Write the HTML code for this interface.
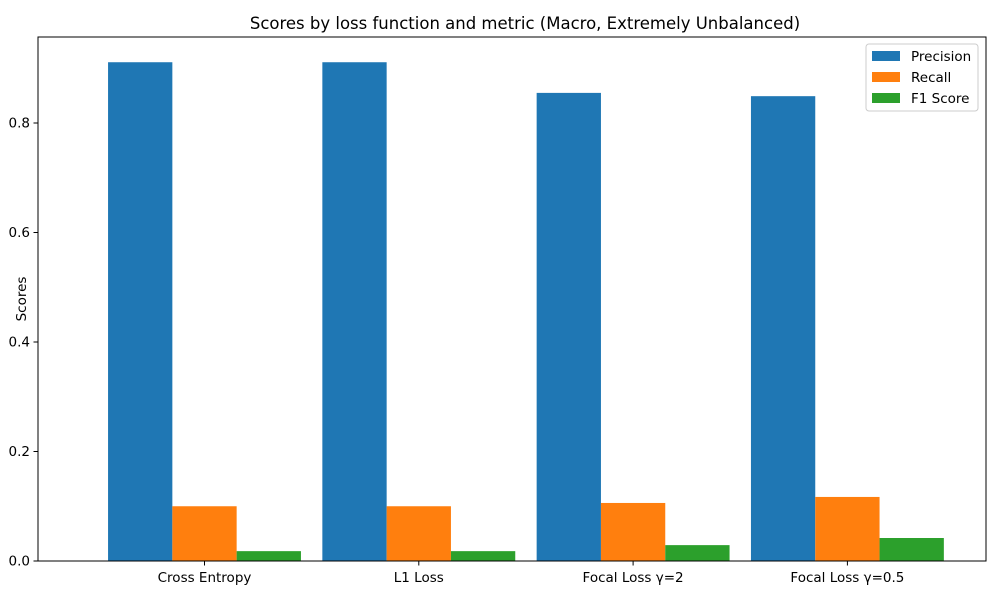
<!DOCTYPE html>
<html><head><meta charset="utf-8"><style>
body{margin:0;background:#fff;font-family:"DejaVu Sans","Liberation Sans",sans-serif;}
svg text{font-family:"DejaVu Sans","Liberation Sans",sans-serif;}
</style></head><body>
<svg id="chart" width="1000" height="600" xmlns="http://www.w3.org/2000/svg">
<text x="525" y="29" text-anchor="middle" font-size="16.5">Scores by loss function and metric (Macro, Extremely Unbalanced)</text>
<text transform="translate(26,299) rotate(-90)" text-anchor="middle" font-size="13.5">Scores</text>
<g id="bars"></g><g id="ticks"></g>
<rect x="38" y="37" width="948" height="524" fill="none" stroke="#000" stroke-width="1"/>
<g>
<rect x="866" y="44" width="112" height="67" fill="#fff" stroke="#ccc" rx="3"/>
<rect x="872" y="51" width="28" height="10" fill="#1f77b4"/><text x="911" y="61" font-size="13.5">Precision</text>
<rect x="872" y="72" width="28" height="10" fill="#ff7f0e"/><text x="911" y="82" font-size="13.5">Recall</text>
<rect x="872" y="93" width="28" height="10" fill="#2ca02c"/><text x="911" y="103" font-size="13.5">F1 Score</text>
</g>
</svg>
<script>
const categories=["Cross Entropy","L1 Loss","Focal Loss γ=2","Focal Loss γ=0.5"];
const precision=[0.911,0.911,0.855,0.849];
const recall=[0.100,0.100,0.106,0.117];
const f1=[0.018,0.018,0.029,0.042];
const yTicks=[0,0.2,0.4,0.6,0.8];
const yTickLabels=["0.0","0.2","0.4","0.6","0.8"];
const NS="http://www.w3.org/2000/svg";
const y=v=>561-v*547.5;
const xc=i=>204.5+i*214.3;
const bw=64.3;
const bars=document.getElementById('bars'),ticks=document.getElementById('ticks');
const series=[[precision,"#1f77b4","precision"],[recall,"#ff7f0e","recall"],[f1,"#2ca02c","f1"]];
series.forEach(([vals,col,nm],s)=>{vals.forEach((v,i)=>{
const r=document.createElementNS(NS,'rect');
r.setAttribute('x',xc(i)+(s-1)*bw-bw/2);r.setAttribute('y',y(v));
r.setAttribute('width',bw);r.setAttribute('height',561-y(v));r.setAttribute('fill',col);


bars.appendChild(r);});});
yTicks.forEach((t,k)=>{
const l=document.createElementNS(NS,'line');l.setAttribute('x1',33.5);l.setAttribute('x2',38);l.setAttribute('y1',y(t));l.setAttribute('y2',y(t));l.setAttribute('stroke','#000');ticks.appendChild(l);
const tx=document.createElementNS(NS,'text');tx.setAttribute('x',30);tx.setAttribute('y',y(t)+4.5);tx.setAttribute('text-anchor','end');tx.setAttribute('font-size','13.5');tx.textContent=yTickLabels[k];


ticks.appendChild(tx);});
categories.forEach((c,i)=>{
const l=document.createElementNS(NS,'line');l.setAttribute('x1',xc(i));l.setAttribute('x2',xc(i));l.setAttribute('y1',561);l.setAttribute('y2',565.5);l.setAttribute('stroke','#000');ticks.appendChild(l);
const tx=document.createElementNS(NS,'text');tx.setAttribute('x',xc(i));tx.setAttribute('y',582);tx.setAttribute('text-anchor','middle');tx.setAttribute('font-size','13.5');tx.textContent=c;


ticks.appendChild(tx);});
</script>
</body></html>
